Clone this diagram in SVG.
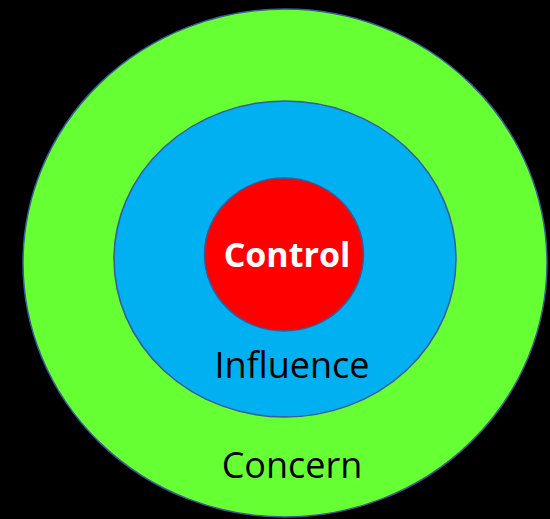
<svg xmlns="http://www.w3.org/2000/svg" width="550" height="519" viewBox="0 0 550 519">
<style>
.ring{stroke:#3a5a9a;stroke-width:1.5}
.lbl{font-family:"Open Sans","DejaVu Sans",sans-serif;text-anchor:middle}
</style>
<rect width="550" height="519" fill="#000"/>
<g id="concern">
<ellipse class="ring" cx="285" cy="263" rx="262" ry="254" fill="#66FF33"/>
<text class="lbl" x="292" y="478" font-size="36" fill="#000">Concern</text>
</g>
<g id="influence">
<ellipse class="ring" cx="285" cy="259" rx="171" ry="158" fill="#00B0F0"/>
<text class="lbl" x="292" y="378" font-size="36" fill="#000">Influence</text>
</g>
<g id="control">
<ellipse class="ring" cx="284" cy="254.5" rx="79.5" ry="76.5" fill="#FF0000"/>
<text class="lbl" x="287" y="267" font-size="34" font-weight="bold" fill="#fff">Control</text>
</g>
<g id="connectors"/>
</svg>
